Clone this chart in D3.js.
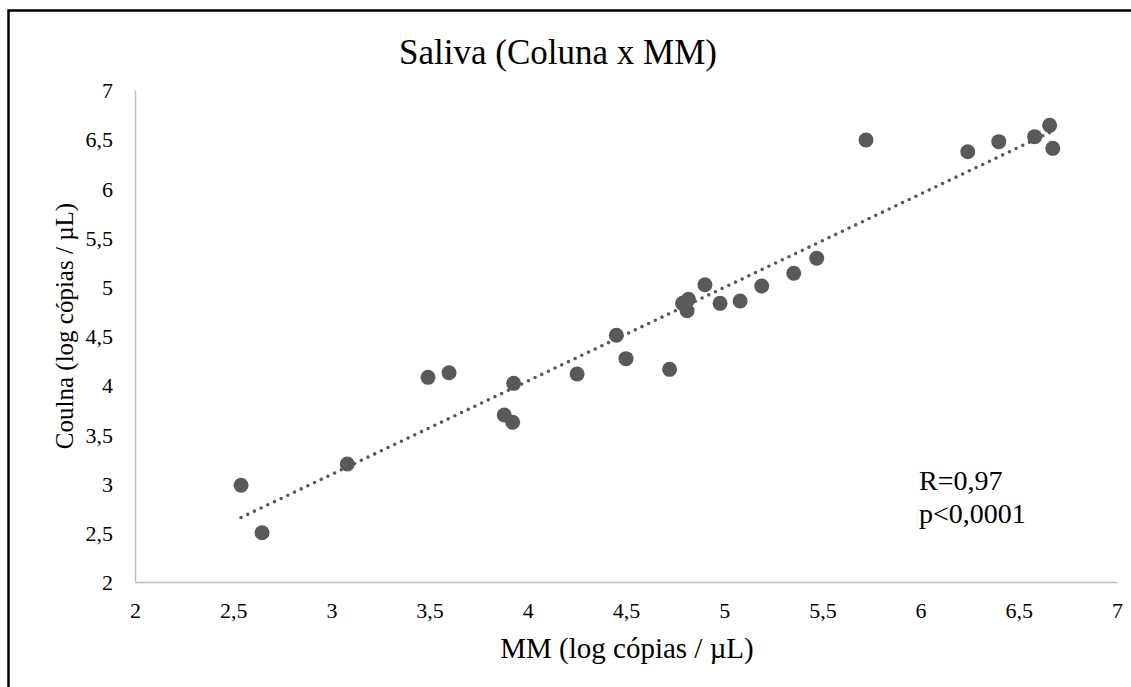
<!DOCTYPE html>
<html>
<head>
<meta charset="utf-8">
<script src="https://cdn.jsdelivr.net/npm/d3@7"></script>
<style>
  html, body { margin: 0; padding: 0; background: #fff; }
  svg { display: block; }
  text { font-family: "Liberation Serif", "Times New Roman", serif; fill: #000; }
</style>
</head>
<body>
<svg id="chart" width="1131" height="687"></svg>
<script>
// MM (x) and Coulna (y) measurements, log copies / µL
const mmValues = [2.54, 2.647, 3.081, 3.492, 3.599, 3.880, 3.923, 3.928, 4.251, 4.451, 4.500, 4.722,
  4.788, 4.811, 4.818, 4.902, 4.979, 5.081, 5.191, 5.354, 5.471, 5.722, 6.240, 6.398, 6.581, 6.657, 6.673];
const coulnaValues = [2.983, 2.50, 3.199, 4.080, 4.127, 3.697, 3.623, 4.019, 4.114, 4.507, 4.270, 4.161,
  4.832, 4.757, 4.873, 5.021, 4.832, 4.856, 5.008, 5.137, 5.290, 6.492, 6.373, 6.475, 6.526, 6.641, 6.407];
const xTicks = [2, 2.5, 3, 3.5, 4, 4.5, 5, 5.5, 6, 6.5, 7];
const yTicks = [2, 2.5, 3, 3.5, 4, 4.5, 5, 5.5, 6, 6.5, 7];
const chartTitle = "Saliva (Coluna x MM)";
const xTitle = "MM (log cópias / µL)";
const yTitle = "Coulna (log cópias / µL)";
const statsLines = ["R=0,97", "p<0,0001"];

const svg = d3.select("#chart");
const fmt = d => String(d).replace(".", ",");

// outer chart frame
svg.append("rect")
  .attr("x", 8.5).attr("y", 10.5).attr("width", 1140).attr("height", 700)
  .attr("fill", "#fff").attr("stroke", "#000").attr("stroke-width", 2.5);

const x = d3.scaleLinear().domain([2, 7]).range([135, 1117]);
const y = d3.scaleLinear().domain([2, 7]).range([582, 90]);

// axes: lines only, no tick marks
const xAxis = svg.append("g").attr("transform", `translate(0,${y(2)})`)
  .call(d3.axisBottom(x).tickValues(xTicks).tickSize(0).tickPadding(20).tickFormat(fmt));
const yAxis = svg.append("g").attr("transform", `translate(${x(2)},0)`)
  .call(d3.axisLeft(y).tickValues(yTicks).tickSize(0).tickPadding(22).tickFormat(fmt));
[xAxis, yAxis].forEach(g => {
  g.select(".domain").attr("stroke", "#bfbfbf").attr("stroke-width", 1.5);
  g.selectAll("text").attr("font-size", 22).attr("fill", "#000");
});
xAxis.selectAll("text").attr("dy", "0.71em");
yAxis.selectAll("text").attr("dy", "0.35em");

// linear trend line (least squares)
const n = mmValues.length;
const mx = d3.mean(mmValues), my = d3.mean(coulnaValues);
let sxy = 0, sxx = 0;
for (let i = 0; i < n; i++) {
  sxy += (mmValues[i] - mx) * (coulnaValues[i] - my);
  sxx += (mmValues[i] - mx) ** 2;
}
const slope = sxy / sxx, intercept = my - slope * mx;
const [x0, x1] = d3.extent(mmValues);
svg.append("line")
  .attr("x1", x(x0)).attr("y1", y(intercept + slope * x0))
  .attr("x2", x(x1)).attr("y2", y(intercept + slope * x1))
  .attr("stroke", "#595959").attr("stroke-width", 3.6)
  .attr("stroke-linecap", "round").attr("stroke-dasharray", "0 7.4");

// data points
svg.append("g").selectAll("circle")
  .data(mmValues.map((v, i) => [v, coulnaValues[i]]))
  .join("circle")
  .attr("cx", d => x(d[0])).attr("cy", d => y(d[1]))
  .attr("r", 7.5).attr("fill", "#595959");

// titles
svg.append("text").attr("x", 558).attr("y", 64).attr("text-anchor", "middle")
  .attr("font-size", 35).text(chartTitle);
svg.append("text").attr("x", 627).attr("y", 658).attr("text-anchor", "middle")
  .attr("font-size", 29).text(xTitle);
svg.append("text").attr("transform", "translate(73,326) rotate(-90)").attr("text-anchor", "middle")
  .attr("font-size", 25).text(yTitle);

// correlation statistics
svg.append("g").selectAll("text").data(statsLines).join("text")
  .attr("x", 919).attr("y", (d, i) => 490 + i * 33)
  .attr("font-size", 28).text(d => d);
</script>
</body>
</html>
